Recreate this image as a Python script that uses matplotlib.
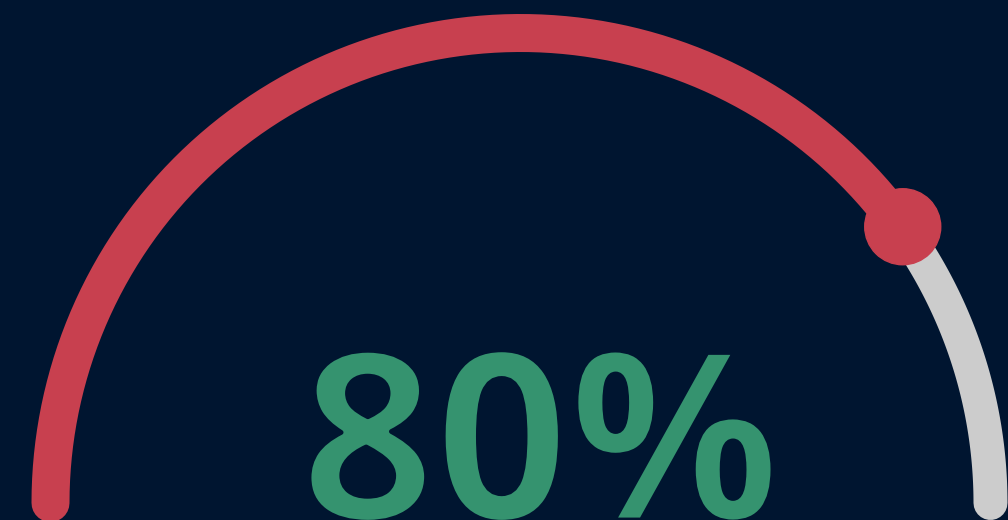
import numpy as np
import matplotlib
matplotlib.use("Agg")
from matplotlib import pyplot as plt
from matplotlib.patches import Circle
import matplotlib.patheffects as pe

# gauge data
value = 80
vmax = 100
label = f"{value}%"

bg = "#001530"
red = "#c8404f"
grey = "#cccccc"
green = "#35936f"

W, H = 1008, 520
fig = plt.figure(figsize=(W / 100, H / 100), dpi=100)
fig.patch.set_facecolor(bg)
ax = fig.add_axes([0, 0, 1, 1])
ax.set_facecolor(bg)
ax.set_xlim(0, W)
ax.set_ylim(H, 0)
ax.axis("off")

# geometry in pixels
cx, cy, r = 520.5, 503, 470
lw = 38 * 0.72  # px -> pt

frac = value / vmax
a_end = np.pi * (1 - frac)  # angle of the knob

th_grey = np.linspace(a_end, 0, 100)
ax.plot(cx + r * np.cos(th_grey), cy - r * np.sin(th_grey), color=grey,
        lw=34 * 0.72, solid_capstyle="round", zorder=1)

th_red = np.linspace(np.pi, a_end, 300)
ax.plot(cx + r * np.cos(th_red), cy - r * np.sin(th_red), color=red,
        lw=lw, solid_capstyle="round", zorder=2)

kx, ky = cx + r * np.cos(a_end), cy - r * np.sin(a_end)
ax.add_patch(Circle((kx + 2, ky), 38, color=red, zorder=3))

# bold face is a bit heavy, thin it with a background-coloured outline
txt = ax.text(540.5, 520, label, color=green, fontsize=169, fontweight="bold",
              family=["Open Sans", "DejaVu Sans"], ha="center", va="baseline",
              zorder=4)
txt.set_path_effects([pe.Stroke(linewidth=3.5, foreground=bg)])

fig.savefig("out.png", dpi=100, facecolor=bg)
